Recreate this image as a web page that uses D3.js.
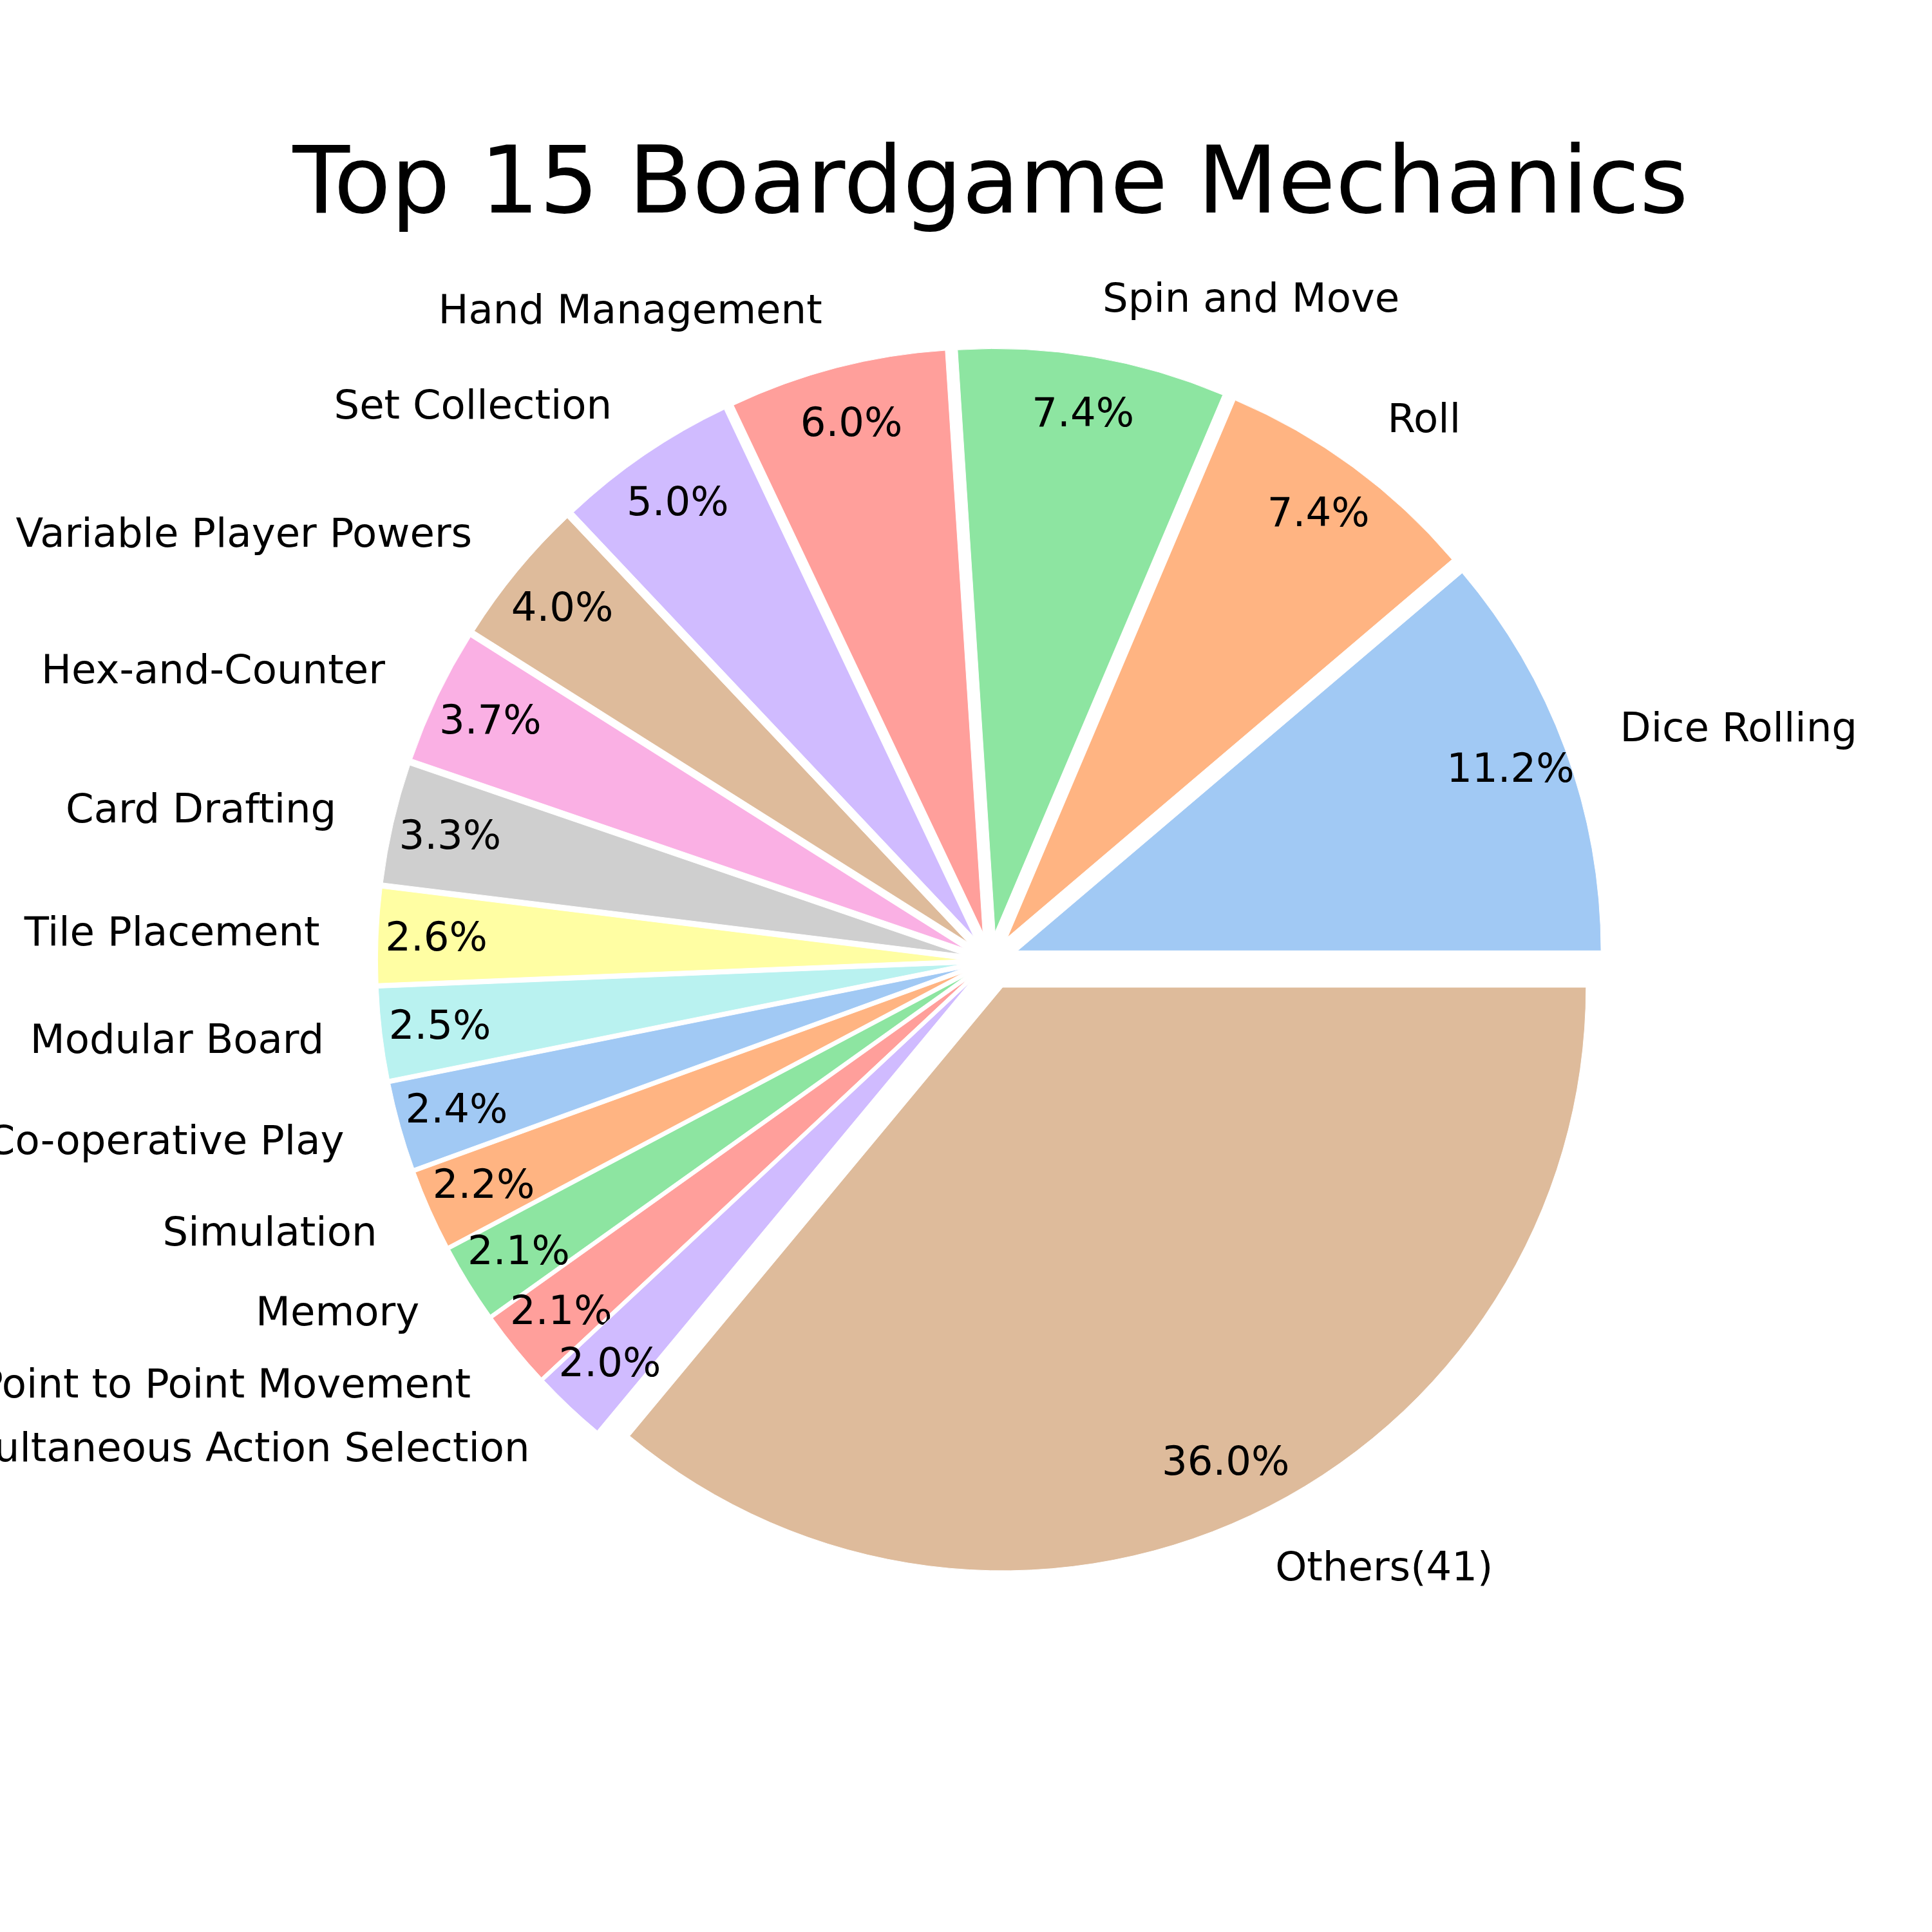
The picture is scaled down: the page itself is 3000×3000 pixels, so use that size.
<!DOCTYPE html>
<html>
<head>
<meta charset="utf-8">
<script src="https://cdn.jsdelivr.net/npm/d3@7"></script>
<style>
  body { margin: 0; background: #fff; }
  text { font-family: "DejaVu Sans", sans-serif; fill: #000; }
</style>
</head>
<body>
<svg id="chart" width="3000" height="3000"></svg>
<script>
// data (share of games, %)
const mechanics = [
  "Dice Rolling", "Roll", "Spin and Move", "Hand Management", "Set Collection",
  "Variable Player Powers", "Hex-and-Counter", "Card Drafting", "Tile Placement",
  "Modular Board", "Co-operative Play", "Simulation", "Memory",
  "Point to Point Movement", "Simultaneous Action Selection", "Others(41)"
];
const shares = [11.2, 7.4, 7.4, 6.0, 5.0, 4.0, 3.7, 3.3, 2.6, 2.5, 2.4, 2.2, 2.1, 2.1, 2.0, 36.0];
const pastel = ["#a1c9f4", "#ffb482", "#8de5a1", "#ff9f9b", "#d0bbff",
                "#debb9b", "#fab0e4", "#cfcfcf", "#fffea3", "#b9f2f0"];

const title = "Top 15 Boardgame Mechanics";

const cx = 1537.6, cy = 1492;
const explode = 0.05, labelDist = 1.1, pctDist = 0.9;

// radius in "pie units" -> pixels
const r = d3.scaleLinear().domain([0, 1]).range([0, 906]);
const color = d3.scaleOrdinal().domain(d3.range(mechanics.length)).range(pastel);

const svg = d3.select("#chart");
svg.append("rect").attr("width", 3000).attr("height", 3000).attr("fill", "#fff");

svg.append("text")
  .attr("x", 1538)
  .attr("y", 330)
  .attr("text-anchor", "middle")
  .style("font-size", "145px")
  .text(title);

const total = d3.sum(shares);
const data = mechanics.map((m, i) => ({ name: m, value: shares[i] }));

// counter-clockwise from 3 o'clock, like matplotlib
const pie = d3.pie()
  .value(d => d.value)
  .sort(null)
  .startAngle(Math.PI / 2)
  .endAngle(Math.PI / 2 - 2 * Math.PI);

const arc = d3.arc().innerRadius(0).outerRadius(r(1));

const g = svg.append("g").attr("transform", `translate(${cx},${cy})`);

const slices = g.selectAll("g.slice")
  .data(pie(data))
  .enter()
  .append("g")
  .attr("class", "slice")
  .attr("transform", function(d) {
    let mid = (d.startAngle + d.endAngle) / 2;
    return `translate(${Math.sin(mid) * r(explode)},${-Math.cos(mid) * r(explode)})`;
  });

slices.append("path")
  .attr("d", arc)
  .attr("fill", (d, i) => color(i))
  .attr("stroke", "#fff")
  .attr("stroke-width", 1);

slices.append("text")
  .attr("x", d => Math.sin((d.startAngle + d.endAngle) / 2) * r(labelDist))
  .attr("y", d => -Math.cos((d.startAngle + d.endAngle) / 2) * r(labelDist))
  .attr("dy", "0.3em")
  .attr("text-anchor", d => Math.sin((d.startAngle + d.endAngle) / 2) > 0 ? "start" : "end")
  .style("font-size", "62.5px")
  .text(d => d.data.name);

slices.append("text")
  .attr("x", d => Math.sin((d.startAngle + d.endAngle) / 2) * r(pctDist))
  .attr("y", d => -Math.cos((d.startAngle + d.endAngle) / 2) * r(pctDist))
  .attr("dy", "0.3em")
  .attr("text-anchor", "middle")
  .style("font-size", "62.5px")
  .text(d => (d.data.value / total * 100).toFixed(1) + "%");
</script>
</body>
</html>
